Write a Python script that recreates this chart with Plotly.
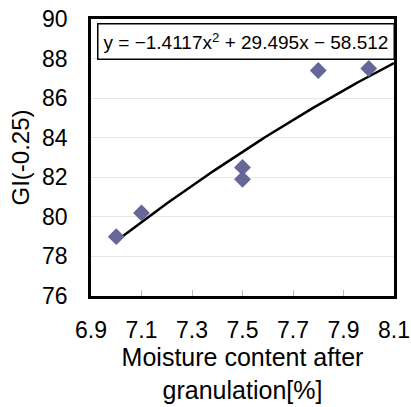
import numpy as np
import plotly.graph_objects as go

moisture = [7.0, 7.1, 7.5, 7.5, 7.8, 8.0]
gi = [79.0, 80.2, 82.5, 81.9, 87.4, 87.5]
coef = [-1.4117, 29.495, -58.512]  # displayed trendline coefficients
x_ticks = [6.9, 7.1, 7.3, 7.5, 7.7, 7.9, 8.1]
y_ticks = [76, 78, 80, 82, 84, 86, 88, 90]

xt = np.linspace(7.0, 8.1, 100)
yt = coef[0] * xt**2 + coef[1] * xt + coef[2]

FONT = "Arial, Liberation Sans, sans-serif"

fig = go.Figure()
fig.add_trace(go.Scatter(x=xt, y=yt, mode="lines", line=dict(color="black", width=2.5),
                         showlegend=False, hoverinfo="skip"))
fig.add_trace(go.Scatter(x=moisture, y=gi, mode="markers",
                         marker=dict(symbol="diamond", size=13, color="#666699"),
                         showlegend=False))

fig.add_annotation(xref="paper", yref="paper", x=0.51, y=1.0, xanchor="center", yanchor="top",
                   yshift=-4,
                   text="y = \u22121.4117x<sup>2</sup> + 29.495x \u2212 58.512",
                   showarrow=False, font=dict(family=FONT, size=19, color="black"),
                   bordercolor="black", borderwidth=1.5, borderpad=5, bgcolor="white")

fig.update_layout(
    width=411, height=407,
    margin=dict(l=91, r=17, t=19, b=111),
    plot_bgcolor="white", paper_bgcolor="white",
    font=dict(family=FONT, size=23, color="black"),
    xaxis=dict(range=[6.9, 8.1], tickvals=x_ticks, ticktext=[f"{v:g}" for v in x_ticks],
               ticks="inside", ticklen=6, tickcolor="#bbbbbb", showgrid=False,
               showline=True, linecolor="black", linewidth=2.5, mirror=True,
               zeroline=False, ticklabelstandoff=12, automargin=False, ticklabeloverflow="allow",
               title=dict(text="Moisture content after<br>granulation[%]", font=dict(size=25), standoff=6)),
    yaxis=dict(range=[76, 90], tickvals=y_ticks, showgrid=True, gridcolor="#e6e6e6", gridwidth=1,
               showline=True, linecolor="black", linewidth=2.5, mirror=True, zeroline=False,
               ticks="", ticklabelstandoff=16, automargin=False, ticklabeloverflow="allow",
               title=dict(text="GI(-0.25)", font=dict(size=24), standoff=6)),
)
fig.write_html("out.html", config={"displayModeBar": False},
               post_script="document.body.style.margin='0';")
